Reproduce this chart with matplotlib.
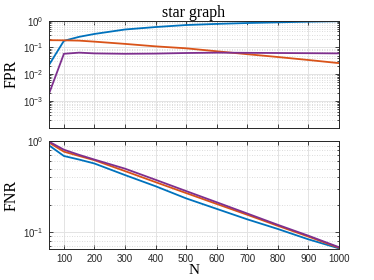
import matplotlib
matplotlib.use("Agg")
import matplotlib.pyplot as plt
from matplotlib.ticker import LogLocator, NullFormatter, FixedLocator

N = [50, 100, 150, 200, 300, 400, 500, 600, 700, 800, 900, 1000]

fpr_blue   = [0.021, 0.177, 0.25, 0.32, 0.47, 0.58, 0.69, 0.76, 0.82, 0.87, 0.92, 0.96]
fpr_orange = [0.187, 0.185, 0.18, 0.165, 0.136, 0.11, 0.093, 0.072, 0.056, 0.044, 0.034, 0.026]
fpr_purple = [0.0017, 0.058, 0.064, 0.060, 0.058, 0.059, 0.062, 0.064, 0.063, 0.062, 0.061, 0.060]

fnr_blue   = [0.91, 0.69, 0.63, 0.57, 0.425, 0.32, 0.235, 0.18, 0.138, 0.108, 0.083, 0.066]
fnr_orange = [0.975, 0.77, 0.69, 0.62, 0.47, 0.355, 0.269, 0.204, 0.155, 0.117, 0.089, 0.067]
fnr_purple = [1.0, 0.81, 0.71, 0.63, 0.50, 0.377, 0.283, 0.213, 0.16, 0.12, 0.091, 0.068]

xticks = [100, 200, 300, 400, 500, 600, 700, 800, 900, 1000]

C_BLUE, C_ORANGE, C_PURPLE = "#0072BD", "#D95319", "#7E2F8E"
AX_COLOR = "#262626"

plt.rcParams['font.family'] = ['Liberation Sans', 'DejaVu Sans']
plt.rcParams['mathtext.default'] = 'regular'

fig = plt.figure(figsize=(3.74, 2.8), dpi=100)
ax1 = fig.add_axes([0.130, 0.544, 0.776, 0.382])
ax2 = fig.add_axes([0.130, 0.111, 0.776, 0.384])

def style(ax):
    ax.set_yscale('log')
    ax.set_xlim(50, 1000)
    ax.xaxis.set_major_locator(FixedLocator(xticks))
    ax.yaxis.set_minor_locator(LogLocator(base=10, subs=range(2, 10), numticks=20))
    ax.yaxis.set_minor_formatter(NullFormatter())
    ax.grid(True, which='major', color='#e3e3e3', lw=0.7, ls='-')
    ax.grid(True, which='minor', axis='y', color='#d0d0d0', lw=0.6, ls=(0, (1, 2)))
    ax.set_axisbelow(True)
    ax.tick_params(which='both', direction='in', top=True, right=True,
                   colors=AX_COLOR, labelsize=7, width=0.6)
    ax.tick_params(which='major', length=3)
    ax.tick_params(which='minor', length=1.5)
    for s in ax.spines.values():
        s.set_color(AX_COLOR)
        s.set_linewidth(0.7)

lw = 1.3
ax1.plot(N, fpr_blue, color=C_BLUE, lw=lw)
ax1.plot(N, fpr_orange, color=C_ORANGE, lw=lw)
ax1.plot(N, fpr_purple, color=C_PURPLE, lw=lw)
style(ax1)
ax1.set_ylim(1e-4, 1)
ax1.yaxis.set_major_locator(FixedLocator([1e-3, 1e-2, 1e-1, 1]))
ax1.set_xticklabels([])
ax1.set_title('star graph', family='Liberation Serif', fontsize=11.5, pad=3)
ax1.set_ylabel('FPR', family='Liberation Serif', fontsize=11.5, labelpad=3)

ax2.plot(N, fnr_blue, color=C_BLUE, lw=lw)
ax2.plot(N, fnr_orange, color=C_ORANGE, lw=lw)
ax2.plot(N, fnr_purple, color=C_PURPLE, lw=lw)
style(ax2)
ax2.set_ylim(0.065, 1)
ax2.yaxis.set_major_locator(FixedLocator([1e-1, 1]))
ax2.set_xticklabels([str(t) for t in xticks])
ax2.set_ylabel('FNR', family='Liberation Serif', fontsize=11.5, labelpad=3)
ax2.set_xlabel('N', family='Liberation Serif', fontsize=11, labelpad=0.5)

fig.savefig('out.png', dpi=100)
